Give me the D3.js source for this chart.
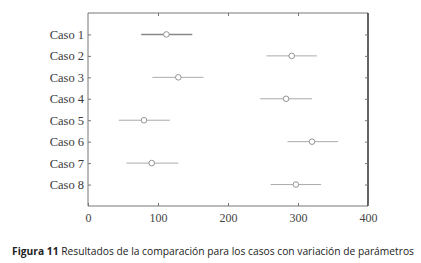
<!DOCTYPE html>
<html>
<head>
<meta charset="utf-8">
<script src="https://cdn.jsdelivr.net/npm/d3@7"></script>
<style>
  body { margin: 0; background: #fff; }
  svg { display: block; }
</style>
</head>
<body>
<div id="chart"></div>
<script>
// Datos
var casos = ["Caso 1", "Caso 2", "Caso 3", "Caso 4", "Caso 5", "Caso 6", "Caso 7", "Caso 8"];
var centro = [112, 291, 129, 283, 80, 320, 91, 297];
var inferior = [76, 255, 92, 246, 44, 285, 55, 261];
var superior = [149, 327, 165, 320, 117, 357, 129, 333];
var xTicks = [0, 100, 200, 300, 400];

var W = 421, H = 263;
var margin = {top: 13, right: 53, bottom: 57, left: 88};
var width = W - margin.left - margin.right,
    height = H - margin.top - margin.bottom;

var svg = d3.select("#chart").append("svg")
  .attr("width", W)
  .attr("height", H);

var g = svg.append("g")
  .attr("transform", "translate(" + margin.left + "," + margin.top + ")");

var x = d3.scaleLinear().domain([0, 400]).range([0, width]);
var y = d3.scaleLinear().domain([0, casos.length + 1]).range([0, height]);

var serif = "'Liberation Serif', 'DejaVu Serif', serif";

//Frame
g.append("line").attr("x1", 0).attr("x2", width).attr("y1", 0).attr("y2", 0)
  .style("stroke", "#777").style("stroke-width", 1);
g.append("line").attr("x1", 0).attr("x2", 0).attr("y1", 0).attr("y2", height)
  .style("stroke", "#777").style("stroke-width", 1);
g.append("line").attr("x1", 0).attr("x2", width).attr("y1", height).attr("y2", height)
  .style("stroke", "#777").style("stroke-width", 1);
g.append("line").attr("x1", width).attr("x2", width).attr("y1", 0).attr("y2", height)
  .style("stroke", "#222").style("stroke-width", 1.4);

//Bottom axis (ticks inward)
var xAxis = g.append("g")
  .attr("transform", "translate(0," + height + ")")
  .call(d3.axisBottom(x).tickValues(xTicks).tickSize(-3).tickPadding(7));
xAxis.select(".domain").remove();
xAxis.selectAll("line").style("stroke", "#777");
xAxis.selectAll("text")
  .style("font-family", serif)
  .style("font-size", "12px")
  .style("fill", "#444");

//Top axis ticks
var topAxis = g.append("g")
  .call(d3.axisTop(x).tickValues([100, 200, 300]).tickSize(-3).tickFormat(""));
topAxis.select(".domain").remove();
topAxis.selectAll("line").style("stroke", "#777");

//Left axis
var yAxis = g.append("g")
  .call(d3.axisLeft(y).tickValues(d3.range(1, casos.length + 1))
    .tickFormat(function(d){ return casos[d - 1]; })
    .tickSize(-3).tickPadding(4));
yAxis.select(".domain").remove();
yAxis.selectAll("line").style("stroke", "#777");
yAxis.selectAll("text")
  .style("font-family", serif)
  .style("font-size", "12.5px")
  .style("fill", "#3a3a3a");

//Right axis ticks
var rAxis = g.append("g")
  .attr("transform", "translate(" + width + ",0)")
  .call(d3.axisRight(y).tickValues(d3.range(1, casos.length + 1)).tickSize(-3).tickFormat(""));
rAxis.select(".domain").remove();
rAxis.selectAll("line").style("stroke", "#777");

//Intervals
var filas = g.selectAll(".fila").data(casos).enter().append("g").attr("class", "fila");

filas.append("line")
  .attr("x1", function(d, i){ return x(inferior[i]); })
  .attr("x2", function(d, i){ return x(superior[i]); })
  .attr("y1", function(d, i){ return y(i + 1); })
  .attr("y2", function(d, i){ return y(i + 1); })
  .style("stroke", function(d, i){ return i == 0 ? "#888" : "#aaa"; })
  .style("stroke-width", function(d, i){ return i == 0 ? 1.5 : 1; });

filas.append("circle")
  .attr("cx", function(d, i){ return x(centro[i]); })
  .attr("cy", function(d, i){ return y(i + 1); })
  .attr("r", 2.8)
  .style("fill", "#fff")
  .style("stroke", "#888")
  .style("stroke-width", 0.9);

//Caption
var cap = svg.append("text")
  .attr("x", 12)
  .attr("y", 255)
  .attr("textLength", 402)
  .attr("lengthAdjust", "spacingAndGlyphs")
  .style("font-family", "'Open Sans', 'Noto Sans', sans-serif")
  .style("font-size", "10.5px")
  .style("fill", "#222");
cap.append("tspan").style("font-weight", "bold").text("Figura 11");
cap.append("tspan").text(" Resultados de la comparación para los casos con variación de parámetros");
</script>
</body>
</html>
